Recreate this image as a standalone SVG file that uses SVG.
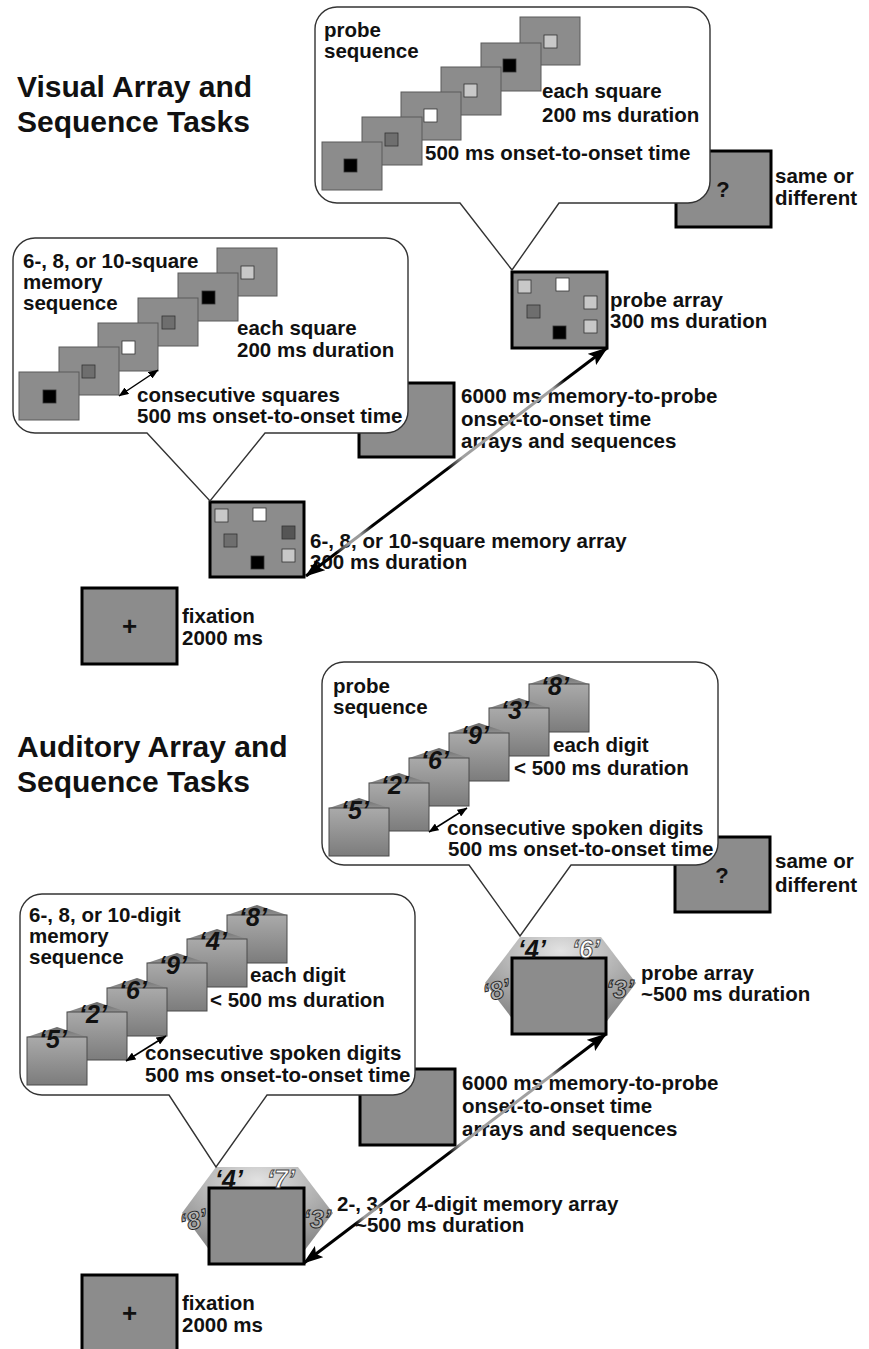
<svg xmlns="http://www.w3.org/2000/svg" xmlns:xlink="http://www.w3.org/1999/xlink" width="869" height="1349" viewBox="0 0 869 1349">
<style>
text{font-family:"Liberation Sans",Arial,Helvetica,sans-serif;font-weight:bold;fill:#111}
.t{font-size:20.5px}
.h{font-size:30px}
.big{fill:#8c8c8c;stroke:#000;stroke-width:3}
.sq{fill:#8c8c8c;stroke:#5a5a5a;stroke-width:1}
.bub{fill:#fff;stroke:#333;stroke-width:1.4}
.c0,.c1,.c2,.c3,.c4{stroke:#333;stroke-width:0.8}
.c0{fill:#000}.c1{fill:#6e6e6e}.c2{fill:#fff}.c3{fill:#c8c8c8}.c4{fill:#555}
.dig{font-size:25px;font-style:italic;text-anchor:middle}
.hx{fill:url(#hexG);stroke:none}
.ol{fill:#fff;stroke:#444;stroke-width:0.9}
.ol2{fill:#b5b5b5;stroke:#222;stroke-width:0.9}
.sym{text-anchor:middle}
.sa{fill:none;stroke:#000;stroke-width:1.5}
</style>
<defs>
<linearGradient id="bodyG" x1="0" y1="0" x2="0" y2="1"><stop offset="0" stop-color="#aaaaaa"/><stop offset="1" stop-color="#7c7c7c"/></linearGradient>
<linearGradient id="roofG" x1="0" y1="0" x2="0" y2="1"><stop offset="0" stop-color="#6a6a6a"/><stop offset="1" stop-color="#909090"/></linearGradient>
<radialGradient id="hexG" cx="0.5" cy="0.15" r="0.75"><stop offset="0" stop-color="#e2e2e2"/><stop offset="1" stop-color="#8a8a8a"/></radialGradient>
<linearGradient id="arrG1" gradientUnits="userSpaceOnUse" x1="306" y1="576" x2="607" y2="348">
<stop offset="0" stop-color="#000"/><stop offset="0.1" stop-color="#000"/><stop offset="0.14" stop-color="#9a9a9a"/><stop offset="0.18" stop-color="#9a9a9a"/><stop offset="0.22" stop-color="#000"/><stop offset="0.47" stop-color="#000"/><stop offset="0.52" stop-color="#a0a0a0"/><stop offset="0.82" stop-color="#a0a0a0"/><stop offset="0.86" stop-color="#000"/><stop offset="1" stop-color="#000"/>
</linearGradient>
<linearGradient id="arrG2" gradientUnits="userSpaceOnUse" x1="304" y1="1263" x2="606" y2="1034">
<stop offset="0" stop-color="#000"/><stop offset="0.17" stop-color="#000"/><stop offset="0.2" stop-color="#9a9a9a"/><stop offset="0.24" stop-color="#9a9a9a"/><stop offset="0.27" stop-color="#000"/><stop offset="0.48" stop-color="#000"/><stop offset="0.52" stop-color="#a0a0a0"/><stop offset="0.82" stop-color="#a0a0a0"/><stop offset="0.86" stop-color="#000"/><stop offset="1" stop-color="#000"/>
</linearGradient>
<marker id="ah" viewBox="0 0 20 14" refX="19" refY="7" markerWidth="20" markerHeight="14" markerUnits="userSpaceOnUse" orient="auto-start-reverse"><path d="M0,0 L20,7 L0,14 L4,7 Z" fill="#000"/></marker>
<marker id="sh" viewBox="0 0 10 8" refX="9.5" refY="4" markerWidth="10" markerHeight="8" markerUnits="userSpaceOnUse" orient="auto-start-reverse"><path d="M0,0 L10,4 L0,8 Z" fill="#000"/></marker>
<g id="spk"><path d="M0,0 L30,-10 L60,0 Z" fill="url(#roofG)"/><rect x="0" y="0" width="60" height="48" fill="url(#bodyG)" stroke="#4a4a4a" stroke-width="1"/></g>
</defs>

<rect x="0" y="0" width="869" height="1349" fill="#fff"/>

<!-- ===== Visual section ===== -->
<g id="title-visual">
<text class="h"><tspan x="17" y="97">Visual Array and</tspan><tspan x="17" y="132">Sequence Tasks</tspan></text>
</g>

<g id="fixation-visual">
<rect class="big" x="82" y="588" width="95" height="76"/>
<text class="sym" x="129.5" y="635" style="font-size:26px">+</text>
<text class="t"><tspan x="182" y="623">fixation</tspan><tspan x="182" y="645">2000 ms</tspan></text>
</g>

<g id="memory-array-visual">
<rect class="big" x="210" y="502" width="94" height="75"/>
<rect class="c3" x="215" y="509" width="13" height="13"/>
<rect class="c2" x="253" y="508" width="13" height="13"/>
<rect class="c4" x="282" y="526" width="13" height="13"/>
<rect class="c1" x="224" y="534" width="13" height="13"/>
<rect class="c3" x="282" y="549" width="13" height="13"/>
<rect class="c0" x="251" y="556" width="13" height="13"/>
<text class="t"><tspan x="310" y="548">6-, 8, or 10-square memory array</tspan><tspan x="310" y="569">300 ms duration</tspan></text>
</g>

<g id="delay-visual">
<rect class="big" x="359" y="383" width="95" height="74"/>
<text class="t"><tspan x="461" y="403">6000 ms memory-to-probe</tspan><tspan x="461" y="426">onset-to-onset time</tspan><tspan x="461" y="448">arrays and sequences</tspan></text>
</g>

<g id="probe-array-visual">
<rect class="big" x="512" y="272" width="95" height="76"/>
<rect class="c3" x="518" y="280" width="13" height="13"/>
<rect class="c2" x="556" y="278" width="13" height="13"/>
<rect class="c3" x="584" y="296" width="13" height="13"/>
<rect class="c1" x="527" y="305" width="13" height="13"/>
<rect class="c3" x="584" y="320" width="13" height="13"/>
<rect class="c0" x="553" y="326" width="13" height="13"/>
<text class="t"><tspan x="610" y="307">probe array</tspan><tspan x="610" y="328">300 ms duration</tspan></text>
</g>

<g id="response-visual">
<rect class="big" x="676" y="151" width="95" height="76"/>
<text class="sym" x="723" y="197" style="font-size:22px">?</text>
<text class="t"><tspan x="775" y="183">same or</tspan><tspan x="775" y="205">different</tspan></text>
</g>

<g id="memory-sequence-visual">
<path class="bub" d="M35,238 H386 A22,22 0 0 1 408,260 V411 A22,22 0 0 1 386,433 H265 L210,501 L147,433 H35 A22,22 0 0 1 13,411 V260 A22,22 0 0 1 35,238 Z"/>
<rect class="sq" x="217" y="248" width="60" height="48"/><rect class="c3" x="241" y="266" width="13" height="13"/>
<rect class="sq" x="178" y="273" width="60" height="48"/><rect class="c0" x="202" y="291" width="13" height="13"/>
<rect class="sq" x="138" y="298" width="60" height="48"/><rect class="c1" x="162" y="316" width="13" height="13"/>
<rect class="sq" x="98" y="323" width="60" height="48"/><rect class="c2" x="122" y="341" width="13" height="13"/>
<rect class="sq" x="59" y="347" width="60" height="48"/><rect class="c1" x="82" y="365" width="13" height="13"/>
<rect class="sq" x="19" y="372" width="60" height="48"/><rect class="c0" x="43" y="390" width="13" height="13"/>
<text class="t"><tspan x="23" y="268">6-, 8, or 10-square</tspan><tspan x="23" y="289">memory</tspan><tspan x="23" y="310">sequence</tspan></text>
<text class="t"><tspan x="237" y="335">each square</tspan><tspan x="237" y="357">200 ms duration</tspan></text>
<text class="t"><tspan x="137" y="402">consecutive squares</tspan><tspan x="137" y="423">500 ms onset-to-onset time</tspan></text>
</g>

<g id="probe-sequence-visual">
<path class="bub" d="M337,7 H688 A22,22 0 0 1 710,29 V181 A22,22 0 0 1 688,203 H559 L512,270 L460,203 H337 A22,22 0 0 1 315,181 V29 A22,22 0 0 1 337,7 Z"/>
<rect class="sq" x="520" y="17" width="60" height="48"/><rect class="c3" x="544" y="35" width="13" height="13"/>
<rect class="sq" x="481" y="43" width="60" height="48"/><rect class="c0" x="503" y="59" width="13" height="13"/>
<rect class="sq" x="441" y="67" width="60" height="48"/><rect class="c3" x="464" y="84" width="13" height="13"/>
<rect class="sq" x="401" y="92" width="60" height="48"/><rect class="c2" x="424" y="109" width="13" height="13"/>
<rect class="sq" x="362" y="117" width="60" height="48"/><rect class="c1" x="385" y="133" width="13" height="13"/>
<rect class="sq" x="322" y="142" width="60" height="48"/><rect class="c0" x="344" y="159" width="13" height="13"/>
<text class="t"><tspan x="324" y="37">probe</tspan><tspan x="324" y="58">sequence</tspan></text>
<text class="t"><tspan x="542" y="98">each square</tspan><tspan x="542" y="122">200 ms duration</tspan></text>
<text class="t" x="425" y="160">500 ms onset-to-onset time</text>
</g>

<!-- ===== Auditory section ===== -->
<g id="title-auditory">
<text class="h"><tspan x="17" y="757">Auditory Array and</tspan><tspan x="17" y="792">Sequence Tasks</tspan></text>
</g>

<g id="fixation-auditory">
<rect class="big" x="82" y="1275" width="95" height="76"/>
<text class="sym" x="129.5" y="1322" style="font-size:26px">+</text>
<text class="t"><tspan x="182" y="1310">fixation</tspan><tspan x="182" y="1332">2000 ms</tspan></text>
</g>

<g id="memory-array-auditory">
<path class="hx" d="M216,1167 H298 L333,1213 L298,1259 H216 L182,1213 Z"/>
<rect class="big" x="209" y="1188" width="95" height="76"/>
<text class="dig" x="229" y="1188">‘4’</text>
<text class="dig ol" x="281" y="1188">‘7’</text>
<text class="dig ol2" x="194" y="1229" transform="rotate(-15 194 1222)">‘8’</text>
<text class="dig ol2" x="317" y="1228">‘3’</text>
<text class="t"><tspan x="337" y="1211">2-, 3, or 4-digit memory array</tspan><tspan x="355" y="1232">~500 ms duration</tspan></text>
</g>

<g id="delay-auditory">
<rect class="big" x="360" y="1069" width="95" height="76"/>
<text class="t"><tspan x="462" y="1090">6000 ms memory-to-probe</tspan><tspan x="462" y="1113">onset-to-onset time</tspan><tspan x="462" y="1136">arrays and sequences</tspan></text>
</g>

<g id="probe-array-auditory">
<path class="hx" d="M520,937 H601 L636,983 L601,1029 H520 L485,983 Z"/>
<rect class="big" x="512" y="958" width="94" height="76"/>
<text class="dig" x="532" y="958">‘4’</text>
<text class="dig ol" x="586" y="958">‘6’</text>
<text class="dig ol2" x="497" y="999" transform="rotate(-15 497 992)">‘8’</text>
<text class="dig ol2" x="620" y="998">‘3’</text>
<text class="t"><tspan x="641" y="980">probe array</tspan><tspan x="641" y="1001">~500 ms duration</tspan></text>
</g>

<g id="response-auditory">
<rect class="big" x="675" y="837" width="95" height="75"/>
<text class="sym" x="722" y="883" style="font-size:22px">?</text>
<text class="t"><tspan x="775" y="868">same or</tspan><tspan x="775" y="892">different</tspan></text>
</g>

<g id="memory-sequence-auditory">
<path class="bub" d="M42,894 H393 A22,22 0 0 1 415,916 V1073 A22,22 0 0 1 393,1095 H267 L216,1167 L169,1095 H42 A22,22 0 0 1 20,1073 V916 A22,22 0 0 1 42,894 Z"/>
<use xlink:href="#spk" x="227" y="915"/><text class="dig" x="253" y="926">‘8’</text>
<use xlink:href="#spk" x="187" y="939"/><text class="dig" x="213" y="950">‘4’</text>
<use xlink:href="#spk" x="147" y="963"/><text class="dig" x="173" y="974">‘9’</text>
<use xlink:href="#spk" x="107" y="988"/><text class="dig" x="133" y="999">‘6’</text>
<use xlink:href="#spk" x="67" y="1012"/><text class="dig" x="93" y="1023">‘2’</text>
<use xlink:href="#spk" x="27" y="1037"/><text class="dig" x="53" y="1048">‘5’</text>
<text class="t"><tspan x="29" y="922">6-, 8, or 10-digit</tspan><tspan x="29" y="943">memory</tspan><tspan x="29" y="964">sequence</tspan></text>
<text class="t"><tspan x="250" y="982">each digit</tspan><tspan x="210" y="1007">&lt; 500 ms duration</tspan></text>
<text class="t"><tspan x="145" y="1060">consecutive spoken digits</tspan><tspan x="145" y="1082">500 ms onset-to-onset time</tspan></text>
</g>

<g id="probe-sequence-auditory">
<path class="bub" d="M344,662 H696 A22,22 0 0 1 718,684 V843 A22,22 0 0 1 696,865 H571 L520,936 L469,865 H344 A22,22 0 0 1 322,843 V684 A22,22 0 0 1 344,662 Z"/>
<use xlink:href="#spk" x="529" y="684"/><text class="dig" x="555" y="695">‘8’</text>
<use xlink:href="#spk" x="489" y="708"/><text class="dig" x="515" y="719">‘3’</text>
<use xlink:href="#spk" x="449" y="733"/><text class="dig" x="475" y="744">‘9’</text>
<use xlink:href="#spk" x="409" y="758"/><text class="dig" x="435" y="769">‘6’</text>
<use xlink:href="#spk" x="369" y="783"/><text class="dig" x="395" y="794">‘2’</text>
<use xlink:href="#spk" x="329" y="808"/><text class="dig" x="355" y="819">‘5’</text>
<text class="t"><tspan x="333" y="693">probe</tspan><tspan x="333" y="714">sequence</tspan></text>
<text class="t"><tspan x="553" y="752">each digit</tspan><tspan x="514" y="775">&lt; 500 ms duration</tspan></text>
<text class="t"><tspan x="447" y="835">consecutive spoken digits</tspan><tspan x="448" y="856">500 ms onset-to-onset time</tspan></text>
</g>

<g id="connectors">
<line x1="306" y1="576" x2="607" y2="348" stroke="url(#arrG1)" stroke-width="3" marker-start="url(#ah)" marker-end="url(#ah)"/>
<line x1="304" y1="1263" x2="606" y2="1034" stroke="url(#arrG2)" stroke-width="3" marker-start="url(#ah)" marker-end="url(#ah)"/>
<line class="sa" x1="119" y1="396" x2="158" y2="370" marker-start="url(#sh)" marker-end="url(#sh)"/>
<line class="sa" x1="429" y1="832" x2="467" y2="808" marker-start="url(#sh)" marker-end="url(#sh)"/>
<line class="sa" x1="126" y1="1061" x2="166" y2="1036" marker-start="url(#sh)" marker-end="url(#sh)"/>
</g>
</svg>
